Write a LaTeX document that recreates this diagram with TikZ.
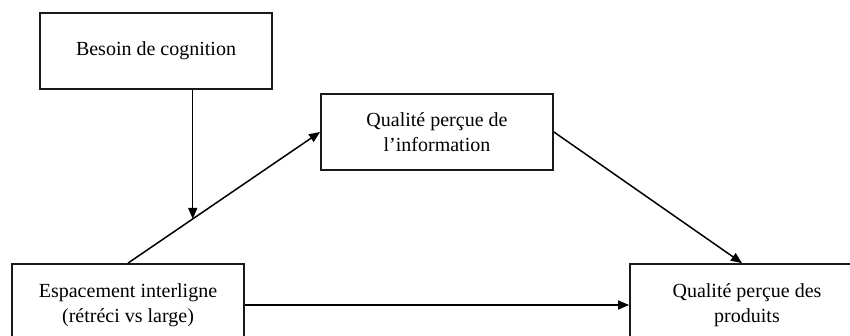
\documentclass[tikz,border=0pt]{standalone}
\usepackage{fontspec}
\setmainfont{Liberation Serif}
\usetikzlibrary{arrows.meta,calc}
\begin{document}
\begin{tikzpicture}[x=1pt,y=1pt,
  box/.style={draw=black!90,line width=1.8pt,fill=white,inner sep=0pt,align=center,
    font=\fontsize{20}{24.5}\selectfont},
  conn/.style={line width=1.5pt,-{Triangle[length=11pt,width=9pt]}}]
\useasboundingbox (0,0) rectangle (850,335);
\clip (0,0) rectangle (850,335);
\fill[white] (0,0) rectangle (850,335);
\node[box,minimum width=232pt,minimum height=76pt] (b1) at (156,284) {Besoin de cognition};
\node[box,minimum width=232pt,minimum height=76pt] (b2) at (437,203) {Qualité perçue de\\l’information};
\node[box,minimum width=232pt,minimum height=82pt] (b3) at (128,30) {Espacement interligne\\(rétréci vs large)};
\node[box,minimum width=234pt,minimum height=82pt] (b4) at (747,30) {Qualité perçue des\\produits};
\coordinate (m) at ($(b3.north)!0.337!(b2.west)$);
\draw[conn] (b3.north) -- (b2.west);
\draw[conn] (b1.south -| m) -- (m);
\draw[conn] (b2.east) -- ([xshift=-5pt]b4.north);
\draw[conn] (b3.east) -- (b4.west);
\end{tikzpicture}
\end{document}
